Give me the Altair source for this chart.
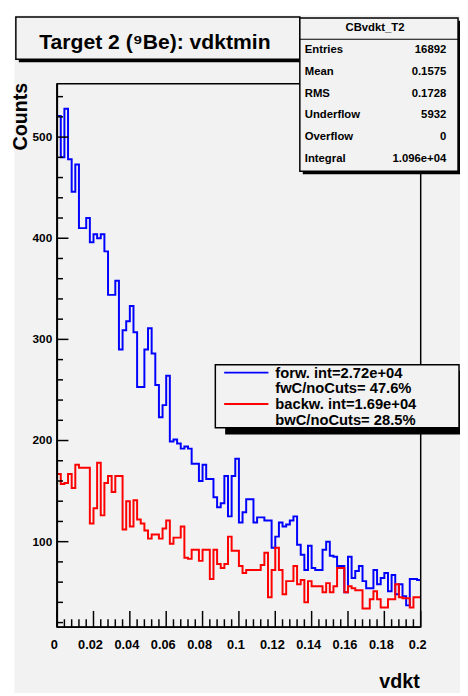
import altair as alt
import pandas as pd

# ---------------- data ----------------
bin_width = 0.002
forw_counts = [521, 480, 528, 478, 446, 473, 410, 410, 420, 396,
               404, 400, 404, 387, 344, 344, 358, 290, 309, 318,
               333, 307, 253, 253, 290, 311, 286, 255, 223, 235,
               264, 199, 201, 197, 192, 194, 192, 177, 177, 160,
               176, 162, 162, 144, 134, 138, 165, 125, 165, 182,
               119, 129, 142, 142, 119, 124, 124, 121, 121, 94,
               105, 119, 115, 117, 121, 125, 97, 87, 72, 96,
               74, 72, 72, 92, 100, 86, 85, 76, 76, 50,
               85, 64, 71, 76, 61, 54, 54, 72, 58, 64,
               69, 51, 67, 48, 58, 46, 37, 63, 63, 62]
backw_counts = [167, 157, 158, 167, 153, 176, 173, 173, 173, 118,
                133, 178, 126, 158, 165, 149, 165, 165, 112, 140,
                115, 141, 122, 118, 111, 103, 107, 107, 103, 113,
                121, 98, 104, 104, 115, 84, 83, 92, 92, 81,
                92, 92, 63, 92, 78, 74, 78, 105, 91, 91,
                76, 69, 72, 72, 72, 72, 77, 89, 45, 72,
                94, 72, 48, 61, 61, 76, 58, 62, 40, 61,
                56, 56, 56, 50, 59, 50, 56, 74, 74, 50,
                56, 54, 52, 52, 34, 34, 43, 51, 43, 35,
                35, 43, 43, 58, 45, 44, 44, 35, 45, 45]

x_major = [0, 0.02, 0.04, 0.06, 0.08, 0.1, 0.12, 0.14, 0.16, 0.18, 0.2]
x_labels = ["0", "0.02", "0.04", "0.06", "0.08", "0.1", "0.12", "0.14", "0.16", "0.18", "0.2"]
x_minor = [round(i * 0.004, 3) for i in range(51) if i % 5]
y_major = [100, 200, 300, 400, 500]
y_minor = [v for v in range(20, 560, 20) if v % 100]

title_text = "Target 2 (\u2079Be): vdktmin"
stats_title = "CBvdkt_T2"
stat_names = ["Entries", "Mean", "RMS", "Underflow", "Overflow", "Integral"]
stat_values = ["16892", "0.1575", "0.1728", "5932", "0", "1.096e+04"]
legend_lines = [["forw. int=2.72e+04", "fwC/noCuts= 47.6%"],
                ["backw. int=1.69e+04", "bwC/noCuts= 28.5%"]]
x_title = "vdkt"
y_title = "Counts"

# ---------------- layout / style ----------------
W, H = 370, 553
PAD = {"left": 50, "top": 71, "right": 40, "bottom": 64}
GRAY = "#f2f2f2"
FONT = "Liberation Sans"
BLUE = "#0000ff"
RED = "#ff0000"

x_scale = alt.Scale(domain=[0, 0.2], nice=False, zero=False)
y_scale = alt.Scale(domain=[15.5, 552.75], nice=False, zero=False)

edges = [round(i * bin_width, 4) for i in range(len(forw_counts) + 1)]
hist = pd.DataFrame({
    "x": edges,
    "forw": forw_counts + forw_counts[-1:],
    "backw": backw_counts + backw_counts[-1:],
})

one = pd.DataFrame({"k": [0]})


def box(x0, y0, x1, y1, fill, stroke=None, sw=1.0):
    kw = dict(fill=fill)
    if stroke:
        kw.update(stroke=stroke, strokeWidth=sw)
    return alt.Chart(one).mark_rect(**kw).encode(
        x=alt.value(x0), x2=alt.value(x1), y=alt.value(y0), y2=alt.value(y1))


def frame(x0, y0, x1, y1, sw=1.5):
    return alt.Chart(one).mark_rect(fillOpacity=0, stroke="black", strokeWidth=sw).encode(
        x=alt.value(x0), x2=alt.value(x1), y=alt.value(y0), y2=alt.value(y1))


def text(t, x, y, size, weight="bold", align="left", baseline="middle", angle=None):
    kw = dict(text=t, font=FONT, fontSize=size, fontWeight=weight,
              align=align, baseline=baseline, color="black")
    if angle is not None:
        kw["angle"] = angle
    return alt.Chart(one).mark_text(**kw).encode(x=alt.value(x), y=alt.value(y))


def hline(x0, x1, y, color="black", sw=1.5):
    return alt.Chart(one).mark_rule(color=color, strokeWidth=sw).encode(
        x=alt.value(x0), x2=alt.value(x1), y=alt.value(y))


def vline(x, y0, y1, color="black", sw=1.5):
    return alt.Chart(one).mark_rule(color=color, strokeWidth=sw).encode(
        x=alt.value(x), y=alt.value(y0), y2=alt.value(y1))


layers = []
# canvas
layers.append(box(-43.5, -69.5, 412, 620, GRAY))

# histograms
for col, colr in [("forw", BLUE), ("backw", RED)]:
    layers.append(
        alt.Chart(hist).mark_line(interpolate="step-after", color=colr, strokeWidth=2).encode(
            x=alt.X("x:Q", scale=x_scale, axis=None),
            y=alt.Y(f"{col}:Q", scale=y_scale, axis=None)))

# ticks
layers.append(alt.Chart(pd.DataFrame({"v": y_major})).mark_rule(color="black", strokeWidth=1.5).encode(
    y=alt.Y("v:Q", scale=y_scale, axis=None), x=alt.value(0), x2=alt.value(11.5)))
layers.append(alt.Chart(pd.DataFrame({"v": y_minor})).mark_rule(color="black", strokeWidth=1.5).encode(
    y=alt.Y("v:Q", scale=y_scale, axis=None), x=alt.value(0), x2=alt.value(6)))
layers.append(alt.Chart(pd.DataFrame({"v": x_major})).mark_rule(color="black", strokeWidth=1.5).encode(
    x=alt.X("v:Q", scale=x_scale, axis=None), y=alt.value(H), y2=alt.value(H - 16.5)))
layers.append(alt.Chart(pd.DataFrame({"v": x_minor})).mark_rule(color="black", strokeWidth=1.5).encode(
    x=alt.X("v:Q", scale=x_scale, axis=None), y=alt.value(H), y2=alt.value(H - 8)))

# frame and axis lines
layers.append(frame(0, 0, W, H, 1.5))
layers.append(vline(0, 0, H, sw=2))
layers.append(hline(0, W, H, sw=2))

# tick labels
layers.append(alt.Chart(pd.DataFrame({"v": x_major, "t": x_labels})).mark_text(
    font=FONT, fontSize=13, fontWeight="bold", baseline="middle", dx=-3, color="black").encode(
    x=alt.X("v:Q", scale=x_scale, axis=None), y=alt.value(571), text="t:N"))
layers.append(alt.Chart(pd.DataFrame({"v": y_major})).mark_text(
    font=FONT, fontSize=12, fontWeight="bold", baseline="middle", align="right", color="black").encode(
    y=alt.Y("v:Q", scale=y_scale, axis=None), x=alt.value(-5), text=alt.Text("v:Q", format="d")))

# axis titles
layers.append(text(x_title, 369, 615, 20, align="right", baseline="alphabetic"))
layers.append(text(y_title, -30.5, -1, 20, align="right", baseline="alphabetic", angle=270))

# title box
layers.append(box(-39, -65, 250, -22, "black"))
layers.append(box(-42, -68, 247, -25, GRAY, "black", 1.5))
layers.append(text(title_text, 99.5, -35.5, 21.5, align="center", baseline="alphabetic"))

# stats box
layers.append(box(250, -64, 412, 92, "black"))
layers.append(box(247, -67, 408, 89, GRAY, "black", 1.5))
layers.append(hline(247, 408, -45.3, sw=1.2))
layers.append(text(stats_title, 323.5, -56.3, 11.5, align="center"))
for i, (nm, val) in enumerate(zip(stat_names, stat_values)):
    yy = -34 + i * 22.1
    layers.append(text(nm, 252, yy, 11.5, align="left"))
    layers.append(text(val, 396, yy, 11.5, align="right"))

# legend
layers.append(box(171, 292, 418, 357, "black"))
layers.append(box(161, 286, 409, 350, GRAY, "black", 1.5))
layers.append(hline(170, 215, 294, color=BLUE, sw=2))
layers.append(hline(170, 215, 326, color=RED, sw=2))
leg_y = [[299.5, 315], [331, 347.5]]
for lines, ys in zip(legend_lines, leg_y):
    for ln, yy in zip(lines, ys):
        layers.append(text(ln, 222, yy, 15, align="left", baseline="alphabetic"))

chart = alt.layer(*layers).properties(
    width=W, height=H,
    autosize=alt.AutoSizeParams(type="none"),
    padding=PAD,
    background="white",
).configure_view(strokeWidth=0)

chart.save("out.html", embed_options={"renderer": "svg", "actions": False})
